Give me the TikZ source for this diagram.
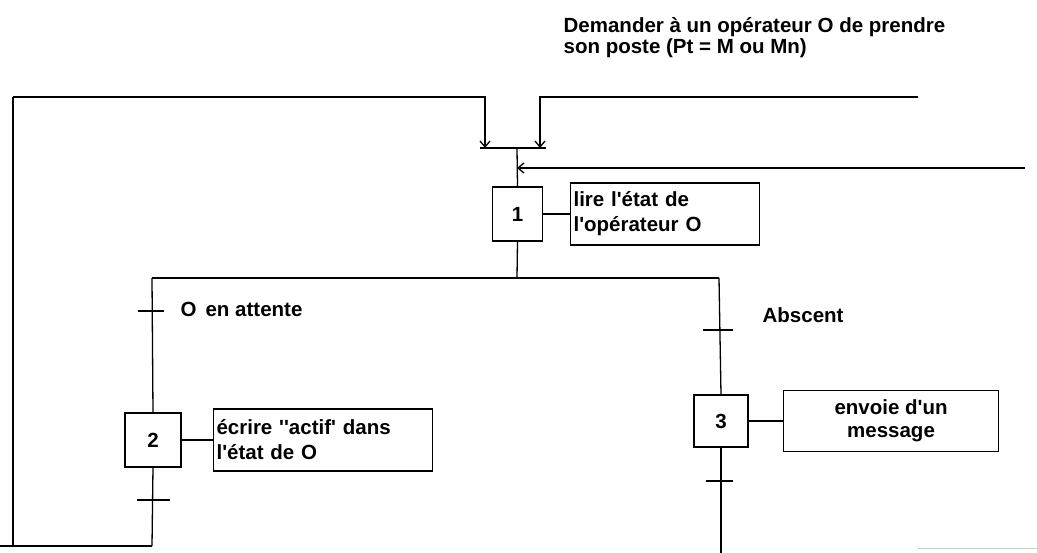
\documentclass[tikz,border=0pt]{standalone}
\usepackage{fontspec}
\setmainfont{Liberation Sans}[Ligatures=TeXOff]
\usetikzlibrary{arrows.meta}
\begin{document}
\begin{tikzpicture}[x=1pt,y=-1pt,
  line width=1.3pt,
  every node/.style={font=\bfseries\fontsize{20.5}{25}\selectfont},
  stepbox/.style={draw,line width=1.1pt,minimum width=50pt,minimum height=54pt,inner sep=0pt},
  actbox/.style={draw,line width=1.1pt,inner sep=3pt,align=left,anchor=west},
  lbl/.style={inner sep=0pt,anchor=base west,align=left},
  arr/.style={-{Straight Barb[length=6pt,width=10pt]}},
  link/.style={line width=1.1pt}]
\useasboundingbox (0,0) rectangle (1037,553);

% top text
\node[lbl,font=\bfseries\fontsize{20.5}{21}\selectfont] (title) at (563,54) {Demander à un opérateur O de prendre\\son poste (Pt = M ou Mn)};

% step 1
\node[stepbox] (s1) at (517.5,214) {1};
\node[actbox,minimum width=189pt,minimum height=62pt,text width=183pt] (a1) at (570,214) {lire l'état de\\l'opérateur O};
\draw[link] (s1.east) -- (a1.west);

% join bar
\coordinate (barL) at (480,148);
\coordinate (barR) at (546,148);
\coordinate (barM) at (517,148);
\draw (barL) -- (barR);
\draw (barM) -- (s1.north);

% input loops
\coordinate (lc1) at (13,97);
\coordinate (lc2) at (485,97);
\coordinate (rc1) at (918,97);
\coordinate (rc2) at (540,97);
\coordinate (ri) at (1025,168);
\coordinate (rt) at (517,168);
\draw[arr] (lc1) -- (lc2) -- (485,148);
\draw[arr] (rc1) -- (rc2) -- (540,148);
\draw[arr] (ri) -- (rt);

% divergence
\coordinate (dv) at (517,278);
\coordinate (dL) at (152,278);
\coordinate (dR) at (719,278);
\draw (s1.south) -- (dv);
\draw (dL) -- (dR);

% left branch
\node[stepbox,minimum width=56pt] (s2) at (153,440) {2};
\node[actbox,minimum width=219pt,minimum height=62pt,text width=213pt] (a2) at (213,440) {écrire ''actif' dans\\l'état de O};
\draw[link] (s2.east) -- (a2.west);
\draw (dL) -- (s2.north);
\coordinate (bl) at (152,546);
\draw (s2.south) -- (bl);
\draw (138,311) -- (164,311);
\draw (137,500) -- (170,500);
\node[lbl] (t1) at (180,317) {O\hspace{9pt}en attente};

% right branch
\node[stepbox,minimum width=54pt,minimum height=52pt] (s3) at (721,421) {3};
\node[draw,line width=1.1pt,minimum width=215pt,minimum height=61pt,align=center,anchor=west,font=\bfseries\fontsize{20.5}{23}\selectfont] (a3) at (783,421) {envoie d'un\\message};
\draw[link] (s3.east) -- (a3.west);
\draw (dR) -- (s3.north);
\coordinate (br) at (721,553);
\draw (s3.south) -- (br);
\draw (703,330) -- (733,330);
\draw (706,481) -- (733,481);
\node[lbl] (t2) at (762,323) {Abscent};

% return loop left
\coordinate (bl0) at (0,546);
\draw (lc1) -- (13,546);
\draw (bl) -- (bl0);

% faint line bottom right
\coordinate (fr1) at (918,548);
\coordinate (fr2) at (1037,548);
\draw[gray!40,line width=0.8pt] (fr1) -- (fr2);
\end{tikzpicture}
\end{document}
